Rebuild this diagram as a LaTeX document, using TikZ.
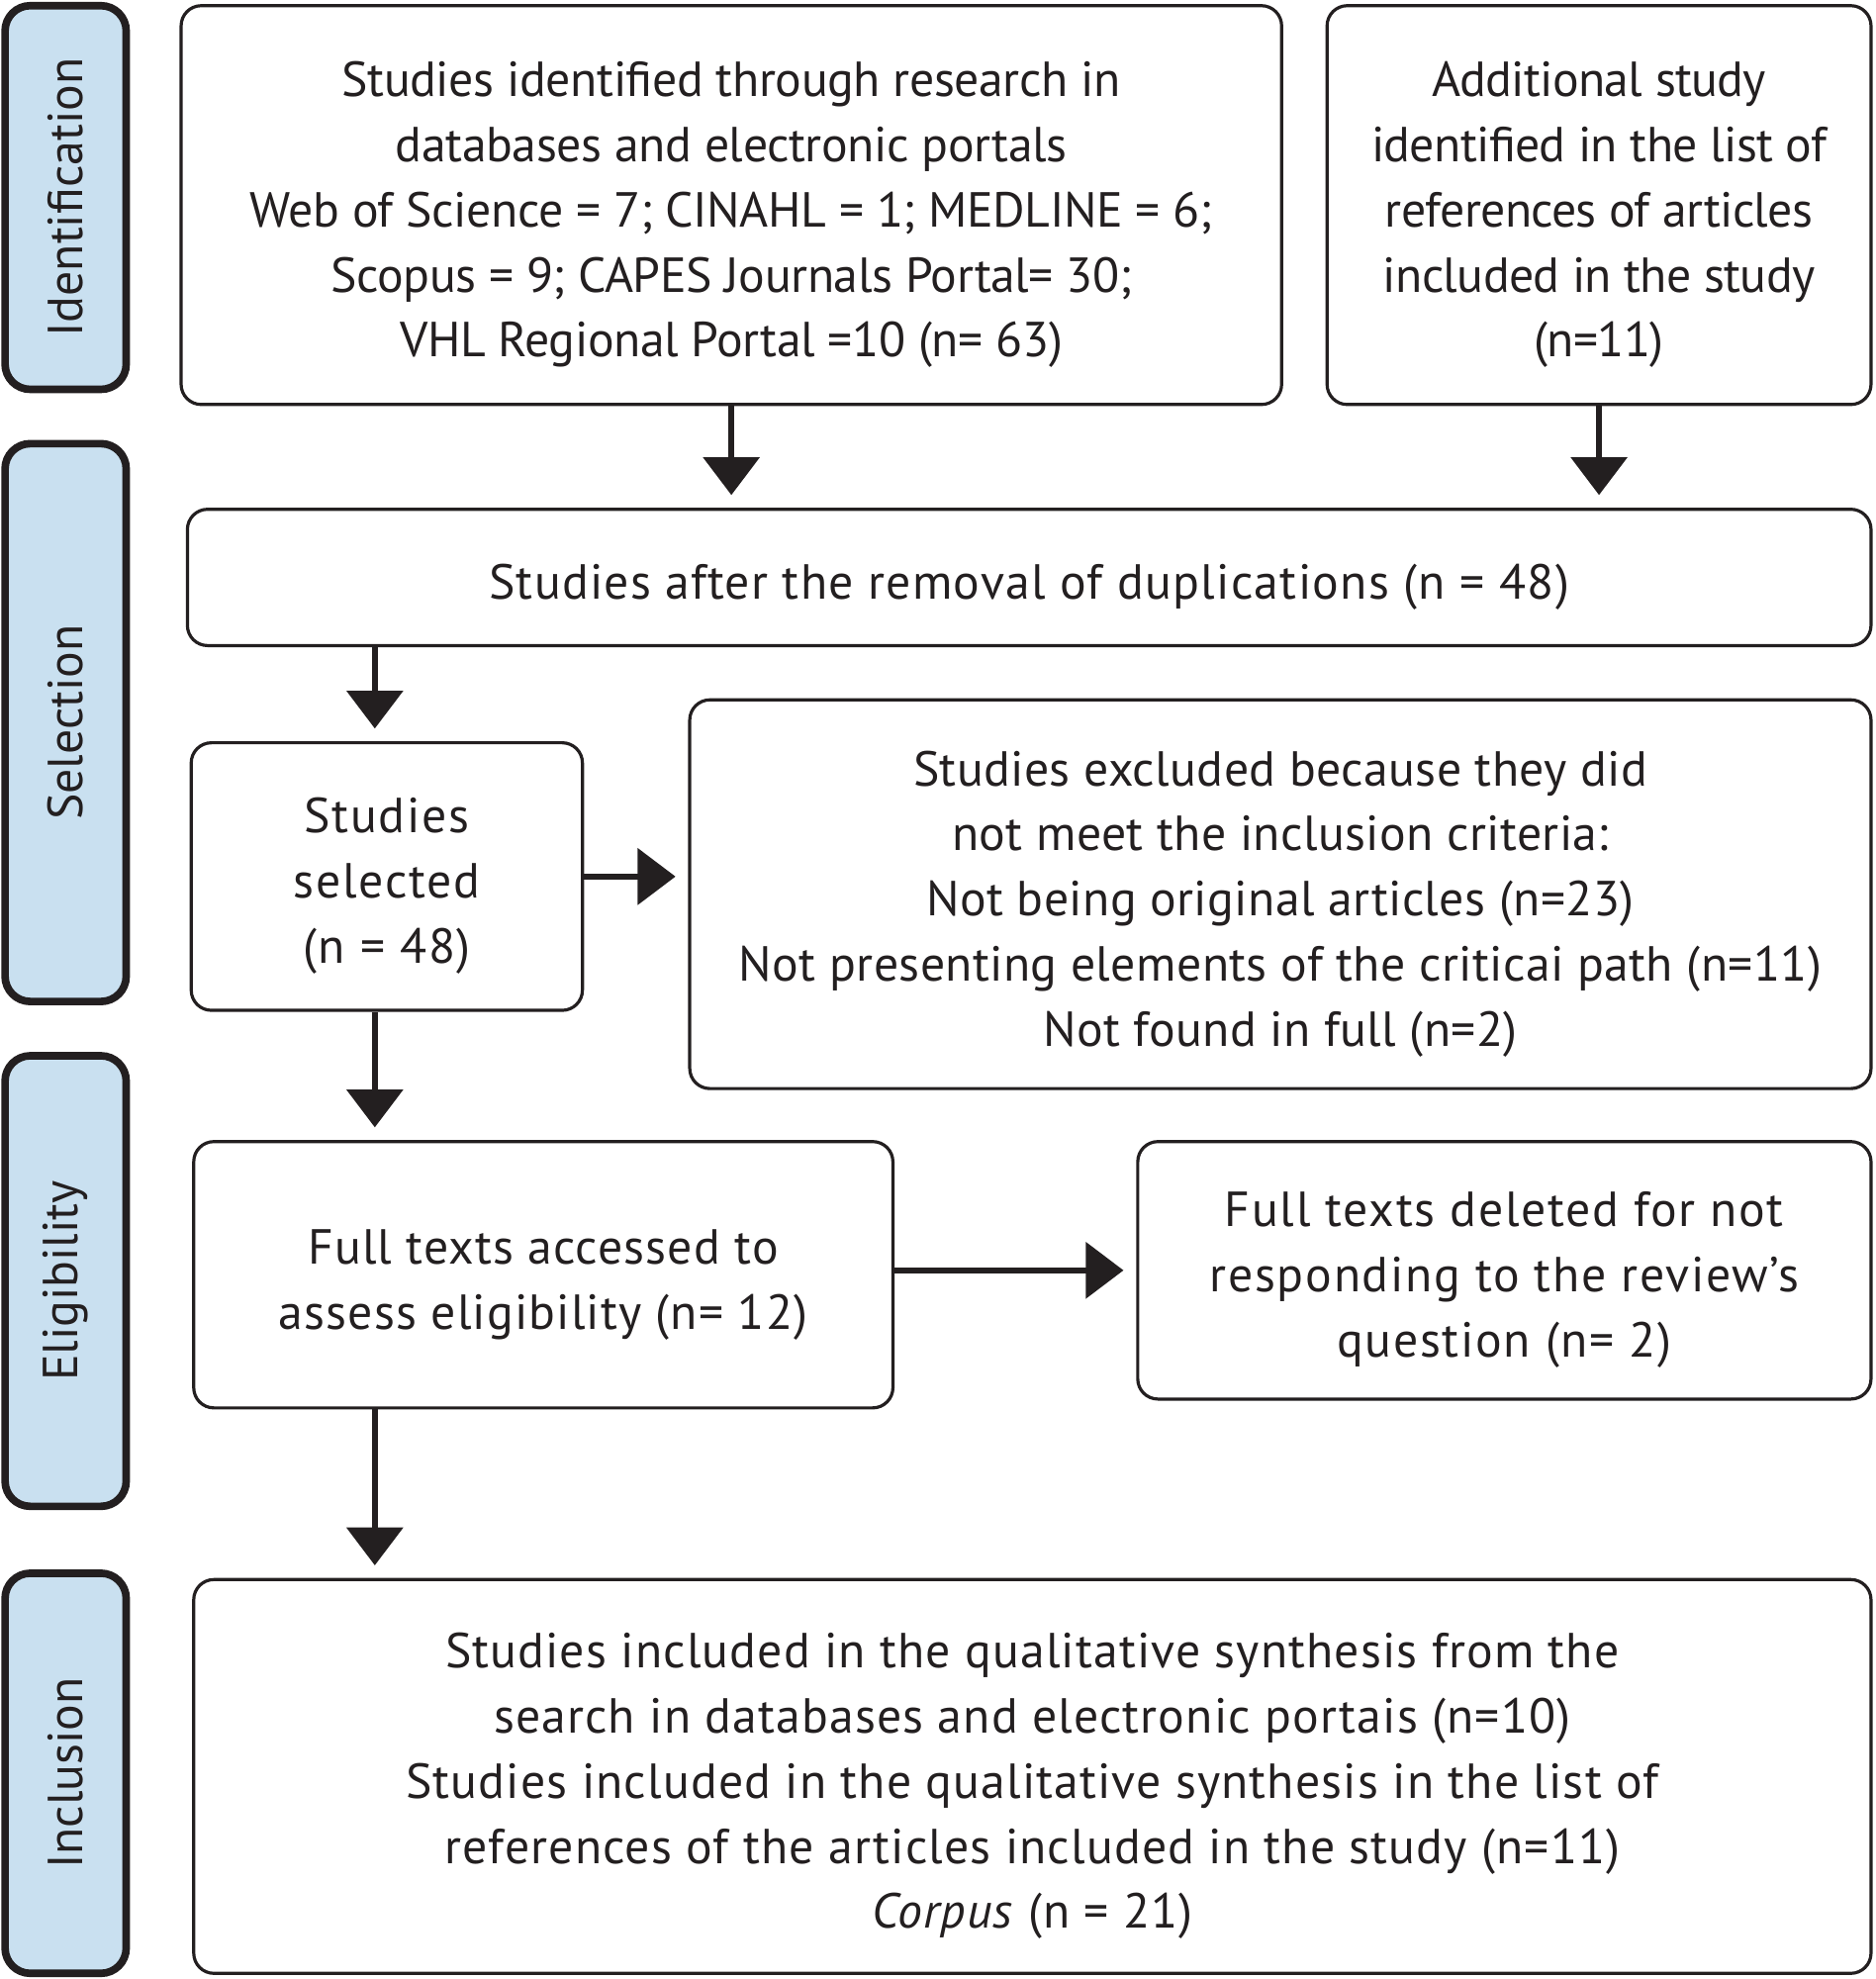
\documentclass[tikz,border=0pt]{standalone}
\usepackage{fontspec}
\setmainfont{PT Sans}
\usetikzlibrary{arrows.meta}
\definecolor{inkline}{HTML}{231F20}
\definecolor{tabblue}{HTML}{C9E0F0}
\newcommand\boxtop{\rule{0pt}{21.5pt}}

\begin{document}
\begin{tikzpicture}[x=0.5pt,y=-0.5pt,color=inkline,
    txt/.style={font=\fontsize{19.5}{25.8}\selectfont\addfontfeature{LetterSpace=#1}},
    txt/.default=0]
\useasboundingbox (0,0) rectangle (1486,1568);
\begin{scope}[every node/.style={draw,line width=3pt,fill=tabblue,rounded corners=10pt,inner sep=0pt,rotate=90,minimum height=48pt,txt}]
    \node[minimum width=152pt] (T1) at (52,156.5) {Identification};
    \node[minimum width=221pt] (T2) at (52,572.5) {Selection};
    \node[minimum width=178.5pt] (T3) at (52,1015) {Eligibility};
    \node[minimum width=158.5pt] (T4) at (52,1405) {Inclusion};
\end{scope}
\begin{scope}[every node/.style={draw,line width=1.25pt,rounded corners=8pt,inner sep=0pt,align=center}]
    \node[txt=-0.8,minimum width=436pt,minimum height=158pt] (A) at (579.5,162.5) {\boxtop Studies identified through research in\\databases and electronic portals\\Web of Science = 7; CINAHL = 1; MEDLINE = 6;\\Scopus = 9; CAPES Journals Portal= 30;\\VHL Regional Portal =10 (n= 63)};
    \node[txt=-1.3,minimum width=215.5pt,minimum height=158pt] (B) at (1267,162.5) {\boxtop Additional study\\identified in the list of\\references of articles\\included in the study\\(n=11)};
    \node[txt=2.6,minimum width=667pt,minimum height=54pt] (C) at (815.5,457.5) {\boxtop Studies after the removal of duplications (n = 48)};
    \node[txt=3.5,minimum width=155pt,minimum height=106pt] (D) at (306.5,694.5) {\boxtop Studies\\selected\\(n = 48)};
    \node[txt=0.8,minimum width=468pt,minimum height=154pt] (E) at (1014.5,708.5) {\boxtop Studies excluded because they did\\not meet the inclusion criteria:\\Not being original articles (n=23)\\Not presenting elements of the criticai path (n=11)\\Not found in full (n=2)};
    \node[txt=2.3,minimum width=277pt,minimum height=105.5pt] (F) at (430.5,1010) {\boxtop Full texts accessed to\\assess eligibility (n= 12)};
    \node[txt=3.5,minimum width=290.5pt,minimum height=102pt] (G) at (1192,1006.5) {\boxtop Full texts deleted for not\\responding to the review’s\\question (n= 2)};
    \node[txt=2.3,minimum width=664.5pt,minimum height=156pt] (H) at (818,1407.5) {\boxtop Studies included in the qualitative synthesis from the\\search in databases and electronic portais (n=10)\\Studies included in the qualitative synthesis in the list of\\references of the articles included in the study (n=11)\\\textit{Corpus} (n = 21)};
\end{scope}
\coordinate (col) at (297,0);
\begin{scope}[line width=2.5pt,-{Triangle[width=22pt,length=15pt]},shorten >=5pt]
    \draw (A.south) -- (C.north -| A.south);
    \draw (B.south) -- (C.north -| B.south);
    \draw (C.south -| col) -- (D.north -| col);
    \draw (D.east) -- (E.west |- D.east);
    \draw (D.south -| col) -- (F.north -| col);
    \draw (F.east |- G.west) -- (G.west);
    \draw (F.south -| col) -- (H.north -| col);
\end{scope}
\end{tikzpicture}
\end{document}
